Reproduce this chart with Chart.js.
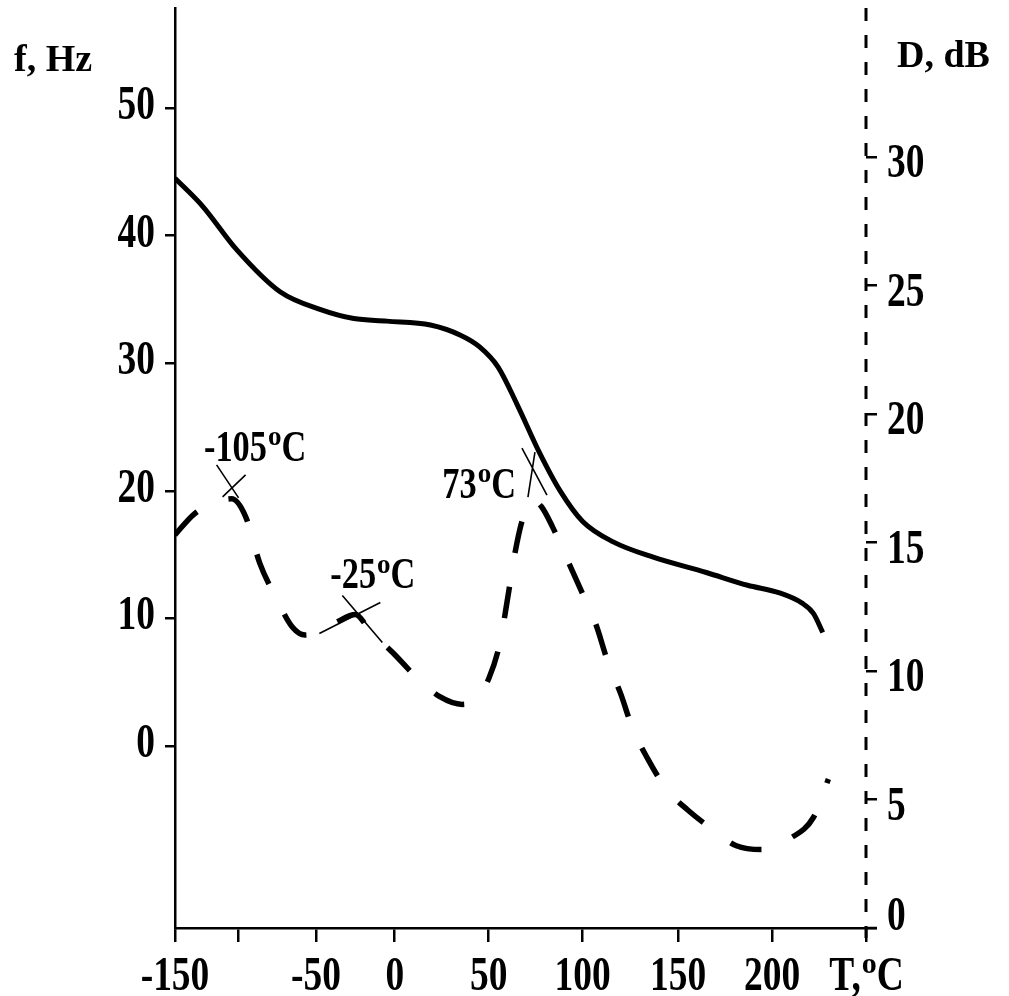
<!DOCTYPE html>
<html lang="en">
<head>
<meta charset="UTF-8" />
<meta name="viewport" content="width=device-width, initial-scale=1.0" />
<title>Frequency and damping versus temperature</title>
<script src="https://cdn.jsdelivr.net/npm/chart.js@4.4.1/dist/chart.umd.min.js"></script>
<style>
  html, body { margin: 0; padding: 0; background: #fff; }
  .chart-container { position: relative; width: 1009px; height: 996px; }
</style>
</head>
<body>
<div class="chart-container">
  <canvas id="chart1"></canvas>
</div>
<script>
// resonance frequency f, Hz
const tempF = [-150, -128, -101, -73, -47, -26, -5, 19, 35, 45, 55, 65, 77, 88, 100, 116, 137, 165, 187, 204, 216, 222, 227];
const freqF = [44.5, 42.3, 38.9, 35.6, 34.2, 33.5, 33.3, 33.0, 32.2, 31.3, 29.7, 26.8, 23.0, 20.0, 17.6, 16.0, 14.8, 13.6, 12.6, 12.0, 11.2, 10.4, 8.9];

// damping D, dB
const tempD = [-150, -135, -118, -105, -95, -86, -76, -65, -57, -49, -37, -25, -16, -1, 11, 24, 36, 43, 50, 56, 60, 64, 68, 73, 78, 84, 92, 100, 107, 113, 120, 126, 134, 144, 155, 169, 181, 195, 210, 222, 228, 230];
const dampD = [15.3, 16.1, 16.55, 16.7, 16.0, 14.2, 12.9, 11.7, 11.4, 11.5, 11.9, 12.2, 11.6, 10.7, 9.8, 9.0, 8.7, 8.9, 9.7, 11.1, 12.8, 14.6, 15.9, 16.65, 16.4, 15.6, 14.3, 13.0, 11.8, 10.4, 9.1, 7.8, 6.6, 5.4, 4.6, 3.8, 3.2, 3.05, 3.5, 4.3, 5.4, 5.8];

// damping peaks
const peakTemps = [-105, -25, 73];
const peakLabels = ['-105°C', '-25°C', '73°C'];

// tick values
const xTicks = [-150, -100, -50, 0, 50, 100, 150, 200, 250];
const fTicks = [0, 10, 20, 30, 40, 50];
const dTicks = [0, 5, 10, 15, 20, 25, 30];

// temperature axis is not uniform: where each tick sits along the axis (0..1)
const xTickFrac = [0, 0.091, 0.204, 0.318, 0.454, 0.590, 0.728, 0.864, 1];

class StretchScale extends Chart.LinearScale {
  toFrac(value) {
    let i = 1;
    while (i < xTicks.length - 1 && value > xTicks[i]) i++;
    const t = (value - xTicks[i - 1]) / (xTicks[i] - xTicks[i - 1]);
    return xTickFrac[i - 1] + t * (xTickFrac[i] - xTickFrac[i - 1]);
  }
  getPixelForValue(value) {
    if (value === null || value === undefined) return NaN;
    return this.getPixelForDecimal(this.toFrac(value));
  }
  getValueForPixel(pixel) {
    const d = this.getDecimalForPixel(pixel);
    let i = 1;
    while (i < xTickFrac.length - 1 && d > xTickFrac[i]) i++;
    const t = (d - xTickFrac[i - 1]) / (xTickFrac[i] - xTickFrac[i - 1]);
    return xTicks[i - 1] + t * (xTicks[i] - xTicks[i - 1]);
  }
}
StretchScale.id = 'stretch';
StretchScale.defaults = {};
Chart.register(StretchScale);

const SQ = 0.78; // narrow bold serif look
const FONT = '"Liberation Serif", "Times New Roman", serif';

// draws text, turning "°" into a raised small "o"
function drawLabel(ctx, text, x, y, align, size) {
  const parts = String(text).split('°');
  const pieces = [];
  parts.forEach((p, i) => {
    if (i > 0) pieces.push({ t: 'o', sup: true });
    if (p) pieces.push({ t: p, sup: false });
  });
  let total = 0;
  pieces.forEach(pc => {
    ctx.font = pc.sup ? 'bold ' + Math.round(size * 0.62) + 'px ' + FONT : 'bold ' + size + 'px ' + FONT;
    pc.w = ctx.measureText(pc.t).width * (pc.sup ? 1 : SQ);
    total += pc.w;
  });
  let cx = align === 'center' ? x - total / 2 : (align === 'right' ? x - total : x);
  ctx.textAlign = 'left';
  ctx.textBaseline = 'alphabetic';
  pieces.forEach(pc => {
    ctx.font = pc.sup ? 'bold ' + Math.round(size * 0.62) + 'px ' + FONT : 'bold ' + size + 'px ' + FONT;
    ctx.save();
    if (pc.sup) {
      ctx.translate(cx + 1, y - size * 0.36);
    } else {
      ctx.translate(cx, y);
      ctx.scale(SQ, 1);
    }
    ctx.fillText(pc.t, 0, 0);
    ctx.restore();
    cx += pc.w + (pc.sup ? 1 : 0);
  });
}

// cross marks and their captions: two strokes around the mark, caption offset
const peakMarks = [
  { dy: -13, a: [-15, -21, 7, 12], b: [14, -11, -9, 11], lx: 23, ly: -25, align: 'center' },
  { dy: -1, a: [-13, -18, 27, 29], b: [-36, 20, 25, -11], lx: 17, ly: -25, align: 'center' },
  { dy: -27, a: [-10, -25, 15, 22], b: [3, -21, -4, 24], lx: -17, ly: 25, align: 'right' }
];

// right axis line is dashed, the library only dashes grid lines
const dashedAxis = {
  id: 'dashedAxis',
  afterDatasetsDraw(chart) {
    const { ctx, chartArea, scales } = chart;
    const x = scales.yR.left;
    ctx.save();
    ctx.strokeStyle = '#000';
    ctx.lineWidth = 3;
    ctx.setLineDash([13, 14]);
    ctx.beginPath();
    ctx.moveTo(x, chartArea.top);
    ctx.lineTo(x, chartArea.bottom + 10);
    ctx.stroke();
    ctx.setLineDash([]);
    ctx.lineWidth = 2.5;
    ctx.beginPath();
    ctx.moveTo(x, chartArea.bottom);
    ctx.lineTo(x + 11, chartArea.bottom);
    ctx.stroke();
    ctx.restore();
  }
};

const textPlugin = {
  id: 'textPlugin',
  afterDraw(chart) {
    const { ctx, chartArea, scales } = chart;
    ctx.save();
    ctx.fillStyle = '#000';
    ctx.strokeStyle = '#000';

    // tick labels
    scales.x.ticks.forEach(t => {
      if (!t.label) return;
      drawLabel(ctx, t.label, scales.x.getPixelForValue(t.value), chartArea.bottom + 62, 'center', 48);
    });
    scales.yL.ticks.forEach(t => {
      drawLabel(ctx, t.label, chartArea.left - 20, scales.yL.getPixelForValue(t.value) + 11, 'right', 48);
    });
    scales.yR.ticks.forEach(t => {
      const y = Math.min(scales.yR.getPixelForValue(t.value) + 20, chartArea.bottom + 2);
      drawLabel(ctx, t.label, chartArea.right + 21, y, 'left', 48);
    });

    // axis titles
    ctx.font = 'bold 38px ' + FONT;
    ctx.textAlign = 'left';
    ctx.fillText('f, Hz', chartArea.left - 161, chartArea.top + 63);
    ctx.fillText('D, dB', chartArea.right + 31, chartArea.top + 59);

    // peak marks
    ctx.lineWidth = 1.6;
    peakTemps.forEach((temp, i) => {
      const m = peakMarks[i];
      const x = scales.x.getPixelForValue(temp);
      const y = scales.yR.getPixelForValue(dampD[tempD.indexOf(temp)]) + m.dy;
      ctx.beginPath();
      ctx.moveTo(x + m.a[0], y + m.a[1]);
      ctx.lineTo(x + m.a[2], y + m.a[3]);
      ctx.moveTo(x + m.b[0], y + m.b[1]);
      ctx.lineTo(x + m.b[2], y + m.b[3]);
      ctx.stroke();
      drawLabel(ctx, peakLabels[i], x + m.lx, y + m.ly, m.align, 44);
    });
    ctx.restore();
  }
};

const data = {
  datasets: [{
    label: 'f, Hz',
    data: tempF.map((t, i) => ({ x: t, y: freqF[i] })),
    yAxisID: 'yL',
    borderColor: '#000',
    borderWidth: 5,
    pointRadius: 0,
    cubicInterpolationMode: 'monotone'
  }, {
    label: 'D, dB',
    data: tempD.map((t, i) => ({ x: t, y: dampD[i] })),
    yAxisID: 'yR',
    borderColor: '#000',
    borderWidth: 5.5,
    borderDash: [32, 34],
    borderCapStyle: 'butt',
    pointRadius: 0,
    cubicInterpolationMode: 'monotone'
  }]
};

const config = {
  type: 'line',
  data: data,
  options: {
    responsive: true,
    maintainAspectRatio: false,
    animation: false,
    events: [],
    layout: { padding: { top: 8, left: 0, right: 0, bottom: 0 } },
    plugins: { legend: { display: false }, tooltip: { enabled: false } },
    scales: {
      x: {
        type: 'stretch',
        min: -150,
        max: 250,
        afterBuildTicks: s => { s.ticks = xTicks.map(v => ({ value: v })); },
        ticks: {
          display: false,
          callback: v => v === -100 ? '' : (v === 250 ? 'T,°C' : String(v))
        },
        grid: { drawOnChartArea: false, drawTicks: true, tickLength: 14, lineWidth: 2.5, color: '#000' },
        border: { color: '#000', width: 2.5 },
        afterFit: s => { s.height = 68; }
      },
      yL: {
        type: 'linear',
        position: 'left',
        min: -14.26,
        max: 57.84,
        afterBuildTicks: s => { s.ticks = fTicks.map(v => ({ value: v })); },
        ticks: { display: false, callback: v => String(v) },
        grid: { drawOnChartArea: false, drawTicks: true, tickLength: 10, lineWidth: 2.5, color: '#000' },
        border: { color: '#000', width: 2.5 },
        afterFit: s => { s.width = 175; }
      },
      yR: {
        type: 'linear',
        position: 'right',
        min: 0,
        max: 35.8,
        afterBuildTicks: s => { s.ticks = dTicks.map(v => ({ value: v })); },
        ticks: { display: false, callback: v => String(v) },
        grid: { drawOnChartArea: false, drawTicks: true, tickLength: 11, lineWidth: 2.5, color: '#000' },
        border: { display: false },
        afterFit: s => { s.width = 143; }
      }
    }
  },
  plugins: [dashedAxis, textPlugin]
};

const myChart = new Chart(document.getElementById('chart1'), config);
</script>
</body>
</html>
